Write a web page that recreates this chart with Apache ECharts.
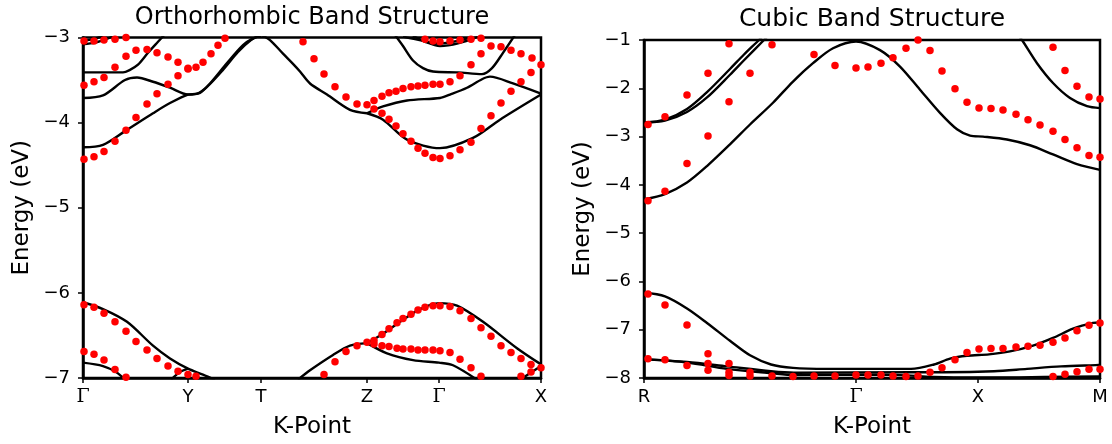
<!DOCTYPE html>
<html>
<head>
<meta charset="utf-8">
<script src="https://cdn.jsdelivr.net/npm/echarts@6/dist/echarts.min.js"></script>
<style>
  html, body { margin: 0; padding: 0; background: #fff; }
  #chart { width: 1112px; height: 444px; }
</style>
</head>
<body>
<div id="chart"></div>
<script>
// k-path ticks (path length units) and energy axes
const orthoTickPos = [0, 1.05, 1.78, 2.84, 3.56, 4.58];
const orthoTickLabels = ['Γ', 'Y', 'T', 'Z', 'Γ', 'X'];
const cubicTickPos = [0, 2.12, 3.34, 4.56];
const cubicTickLabels = ['R', 'Γ', 'X', 'M'];
const orthoEnergyRange = [-7, -3];
const cubicEnergyRange = [-8, -1];

// ---- orthorhombic: black bands [k, E]
const oBandTop1 = [[0, -3.04], [0.1, -3.02], [0.2, -2.98]];
const oBandTop2 = [[0, -3.08], [0.12, -3.06], [0.25, -3.01], [0.35, -2.96]];
const oBandA = [[0, -3.41], [0.2, -3.41], [0.4, -3.41], [0.47, -3.38], [0.55, -3.32], [0.65, -3.18], [0.75, -3.05], [0.82, -2.96]];
const oBandB = [[0, -3.71], [0.2, -3.68], [0.42, -3.50], [0.54, -3.47], [0.7, -3.52], [0.87, -3.59], [1.05, -3.67],
  [1.17, -3.65], [1.27, -3.54], [1.44, -3.30], [1.6, -3.09], [1.7, -3.01], [1.78, -2.98]];
const oBandC = [[0, -4.29], [0.2, -4.26], [0.42, -4.10], [0.7, -3.89], [0.87, -3.77], [1.05, -3.67],
  [1.14, -3.66], [1.24, -3.58], [1.4, -3.38], [1.55, -3.17], [1.68, -3.03], [1.78, -2.97]];
const oBandTZ = [[1.78, -2.97], [1.87, -3.03], [2.0, -3.19], [2.1, -3.31], [2.17, -3.40], [2.27, -3.54], [2.44, -3.67], [2.67, -3.85], [2.84, -3.89]];
const oBandZX1 = [[2.84, -3.89], [3.0, -3.81], [3.24, -3.74], [3.57, -3.71], [3.67, -3.67], [3.84, -3.59], [3.99, -3.49], [4.07, -3.46], [4.3, -3.54], [4.58, -3.66]];
const oBandZX2 = [[2.84, -3.89], [3.0, -3.965], [3.24, -4.20], [3.57, -4.30], [3.9, -4.18], [4.17, -3.965], [4.58, -3.67]];
const oBandGdip = [[3.12, -2.97], [3.2, -3.10], [3.3, -3.27], [3.4, -3.36], [3.5, -3.40], [3.75, -3.41], [3.99, -3.43], [4.09, -3.36], [4.2, -3.18], [4.32, -2.97]];
const oBandGtop1 = [[3.3, -2.98], [3.42, -3.05], [3.57, -3.10], [3.75, -3.07], [3.95, -2.99]];
const oBandGtop2 = [[3.2, -2.99], [3.4, -3.04], [3.54, -3.07], [3.75, -3.04], [3.9, -2.99]];
const oBandL1 = [[0, -6.11], [0.2, -6.19], [0.44, -6.34], [0.7, -6.62], [0.87, -6.77], [1.05, -6.89], [1.2, -6.96], [1.32, -7.02]];
const oBandArch = [[0.88, -7.02], [0.97, -6.93], [1.05, -6.89]];
const oBandL2 = [[0, -6.82], [0.2, -6.86], [0.33, -6.93], [0.42, -7.02]];
const oBandTZlow = [[2.15, -7.02], [2.27, -6.91], [2.5, -6.73], [2.67, -6.62], [2.84, -6.59]];
const oBandZXup = [[2.84, -6.59], [3.0, -6.48], [3.17, -6.34], [3.37, -6.19], [3.56, -6.12], [3.74, -6.15], [4.0, -6.34], [4.34, -6.65], [4.58, -6.84]];
const oBandZXlow = [[2.84, -6.59], [3.04, -6.71], [3.3, -6.79], [3.56, -6.82], [3.7, -6.85], [3.94, -7.02]];
const oBandXrise = [[4.37, -7.02], [4.58, -6.86]];

// ---- orthorhombic: red dots [k, E]
const oDotsTop = [[0.01, -3.04], [0.11, -3.04], [0.21, -3.03], [0.32, -3.02], [0.43, -3.00]];
const oDots1 = [[0.01, -3.56], [0.11, -3.52], [0.21, -3.47], [0.32, -3.35], [0.43, -3.22], [0.53, -3.15], [0.64, -3.14], [0.74, -3.18],
  [0.85, -3.23], [0.95, -3.29], [1.05, -3.36], [1.13, -3.35], [1.2, -3.29], [1.28, -3.19], [1.35, -3.09], [1.42, -3.01]];
const oDots2 = [[0.01, -4.43], [0.11, -4.40], [0.21, -4.34], [0.32, -4.22], [0.43, -4.09], [0.53, -3.94], [0.64, -3.78], [0.74, -3.66],
  [0.85, -3.55], [0.95, -3.45], [1.05, -3.37]];
const oDotsTZ = [[2.2, -3.05], [2.31, -3.25], [2.41, -3.43], [2.52, -3.58], [2.63, -3.70], [2.74, -3.78], [2.84, -3.79]];
const oDotsZXup = [[2.91, -3.74], [2.99, -3.69], [3.06, -3.65], [3.13, -3.63], [3.2, -3.60], [3.28, -3.58], [3.35, -3.57], [3.42, -3.56],
  [3.5, -3.55], [3.57, -3.55], [3.67, -3.52], [3.77, -3.45], [3.88, -3.32], [3.98, -3.19], [4.08, -3.10], [4.18, -3.11],
  [4.28, -3.15], [4.38, -3.19], [4.49, -3.24], [4.58, -3.32]];
const oDotsZXlow = [[2.91, -3.84], [2.99, -3.89], [3.06, -3.96], [3.13, -4.04], [3.2, -4.13], [3.28, -4.22], [3.35, -4.30], [3.42, -4.36],
  [3.5, -4.41], [3.57, -4.42], [3.67, -4.39], [3.77, -4.32], [3.88, -4.23], [3.98, -4.07], [4.08, -3.92], [4.18, -3.77],
  [4.28, -3.63], [4.38, -3.52], [4.48, -3.41]];
const oDotsGtop = [[3.42, -3.02], [3.5, -3.04], [3.57, -3.05], [3.67, -3.04], [3.77, -3.03], [3.88, -3.02], [3.98, -3.01]];
const oDotsLow1 = [[0.01, -6.14], [0.11, -6.17], [0.21, -6.24], [0.32, -6.34], [0.43, -6.45], [0.53, -6.57], [0.64, -6.67], [0.74, -6.77],
  [0.85, -6.86], [0.95, -6.92], [1.05, -6.96], [1.13, -6.98]];
const oDotsLow2 = [[0.01, -6.69], [0.11, -6.72], [0.21, -6.79], [0.32, -6.90], [0.43, -6.99]];
const oDotsTZlow = [[2.41, -6.96], [2.52, -6.81], [2.63, -6.69], [2.74, -6.62], [2.84, -6.58]];
const oDotsZXlowUp = [[2.91, -6.56], [2.99, -6.49], [3.06, -6.42], [3.14, -6.35], [3.2, -6.30], [3.28, -6.25], [3.35, -6.20], [3.42, -6.17],
  [3.5, -6.15], [3.57, -6.15], [3.67, -6.16], [3.77, -6.21], [3.88, -6.30], [3.98, -6.41], [4.08, -6.51], [4.18, -6.62],
  [4.28, -6.70], [4.38, -6.77], [4.48, -6.84], [4.58, -6.88]];
const oDotsZXlowDn = [[2.91, -6.60], [2.99, -6.62], [3.06, -6.63], [3.14, -6.65], [3.2, -6.66], [3.28, -6.66], [3.35, -6.67], [3.42, -6.67],
  [3.5, -6.67], [3.57, -6.68], [3.67, -6.70], [3.77, -6.78], [3.88, -6.88], [3.98, -6.98]];
const oDotsXrise = [[4.38, -6.98], [4.48, -6.93]];

// ---- cubic: black bands [k, E]
const cBandP1 = [[0, -2.71], [0.21, -2.65], [0.43, -2.43], [0.63, -2.08], [0.86, -1.60], [1.0, -1.30], [1.15, -1.0], [1.22, -0.85]];
const cBandP2 = [[0, -2.71], [0.21, -2.67], [0.43, -2.49], [0.63, -2.19], [0.86, -1.72], [1.0, -1.42], [1.2, -1.0], [1.27, -0.85]];
const cBandQ = [[0, -4.30], [0.21, -4.19], [0.43, -3.95], [0.63, -3.61], [0.86, -3.16], [1.06, -2.75], [1.29, -2.30], [1.49, -1.86],
  [1.69, -1.48], [1.89, -1.17], [2.12, -1.03], [2.36, -1.21], [2.56, -1.55], [2.76, -2.03], [2.96, -2.51], [3.13, -2.85],
  [3.26, -2.98], [3.39, -3.00], [3.63, -3.06], [3.86, -3.18], [4.09, -3.37], [4.33, -3.57], [4.56, -3.69]];
const cBandS = [[3.74, -0.9], [3.78, -1.0], [3.93, -1.48], [4.09, -1.89], [4.26, -2.20], [4.43, -2.37], [4.56, -2.41]];
const cBandU = [[0, -6.23], [0.21, -6.31], [0.43, -6.56], [0.63, -6.86], [0.86, -7.23], [1.06, -7.53], [1.27, -7.72], [1.49, -7.79],
  [1.83, -7.81], [2.36, -7.81], [2.67, -7.81], [2.9, -7.72], [3.06, -7.60], [3.23, -7.54], [3.45, -7.51], [3.66, -7.45],
  [3.89, -7.33], [4.09, -7.17], [4.29, -6.98], [4.49, -6.86], [4.56, -6.85]];
const cBandV = [[0, -7.61], [0.43, -7.67], [0.83, -7.76], [1.27, -7.86], [1.5, -7.89], [2.67, -7.88], [3.0, -7.88], [3.5, -7.86],
  [3.83, -7.81], [4.17, -7.76], [4.56, -7.73]];
const cBandV2 = [[0, -7.61], [0.43, -7.68], [0.83, -7.81], [1.27, -7.90], [1.5, -7.94], [2.33, -7.93], [2.67, -7.95], [2.9, -7.98],
  [3.1, -7.99], [3.5, -7.99], [4.0, -7.98], [4.56, -7.97]];

// ---- cubic: red dots [k, E]
const cDotsA = [[0.04, -2.75], [0.21, -2.59], [0.43, -2.14], [0.64, -1.69], [0.85, -1.08]];
const cDotsB = [[0.04, -4.33], [0.21, -4.13], [0.43, -3.56], [0.64, -2.99], [0.85, -2.28], [1.06, -1.69], [1.28, -1.10]];
const cDotsC = [[1.7, -1.30], [1.91, -1.53], [2.12, -1.58], [2.24, -1.56], [2.37, -1.48], [2.49, -1.37], [2.62, -1.17], [2.74, -1.0]];
const cDotsD = [[2.86, -1.22], [2.98, -1.64], [3.11, -2.01], [3.23, -2.29], [3.35, -2.41], [3.47, -2.42], [3.59, -2.45], [3.72, -2.54],
  [3.84, -2.65], [3.96, -2.76], [4.09, -2.89], [4.21, -3.06], [4.33, -3.23], [4.45, -3.39], [4.56, -3.43]];
const cDotsE = [[4.09, -1.15], [4.21, -1.63], [4.33, -1.96], [4.45, -2.18], [4.56, -2.22]];
const cDotsF = [[0.04, -6.26], [0.21, -6.49], [0.43, -6.90], [0.64, -7.50], [0.85, -7.70], [1.06, -7.88], [1.28, -7.96], [1.49, -7.97],
  [1.7, -7.96], [1.91, -7.96], [2.12, -7.94], [2.24, -7.94], [2.37, -7.94], [2.49, -7.96], [2.62, -7.97], [2.74, -7.96],
  [2.86, -7.88], [2.98, -7.79], [3.11, -7.62], [3.23, -7.47], [3.35, -7.40], [3.47, -7.39], [3.59, -7.39], [3.72, -7.36],
  [3.84, -7.34], [3.96, -7.32], [4.09, -7.26], [4.21, -7.17], [4.33, -7.02], [4.45, -6.91], [4.56, -6.86]];
const cDotsG = [[0.04, -7.60], [0.21, -7.62], [0.43, -7.74], [0.64, -7.84], [0.85, -7.95]];
const cDotsH = [[0.64, -7.70], [0.85, -7.88], [1.06, -7.96]];
const cDotsI = [[4.09, -7.97], [4.21, -7.92], [4.33, -7.87], [4.45, -7.82], [4.56, -7.82]];

const orthoLines = [oBandTop1, oBandTop2, oBandA, oBandB, oBandC, oBandTZ, oBandZX1, oBandZX2, oBandGdip, oBandGtop1, oBandGtop2,
  oBandL1, oBandArch, oBandL2, oBandTZlow, oBandZXup, oBandZXlow, oBandXrise];
const orthoDots = [oDotsTop, oDots1, oDots2, oDotsTZ, oDotsZXup, oDotsZXlow, oDotsGtop, oDotsLow1, oDotsLow2, oDotsTZlow,
  oDotsZXlowUp, oDotsZXlowDn, oDotsXrise];
const cubicLines = [cBandP1, cBandP2, cBandQ, cBandS, cBandU, cBandV, cBandV2];
const cubicDots = [cDotsA, cDotsB, cDotsC, cDotsD, cDotsE, cDotsF, cDotsG, cDotsH, cDotsI];

const FONT = 'DejaVu Sans';

function lineSeries(data, idx) {
  return {
    type: 'line', xAxisIndex: idx, yAxisIndex: idx, data: data,
    smooth: 0.3, symbol: 'none', silent: true, z: 2,
    lineStyle: { color: '#000', width: 2.4 }
  };
}

function dotSeries(data, idx) {
  return {
    type: 'scatter', xAxisIndex: idx, yAxisIndex: idx, data: data,
    symbolSize: 7.5, silent: true, z: 3,
    itemStyle: { color: '#ff0000', opacity: 1 }
  };
}

function kAxis(idx, pos, labels) {
  return {
    type: 'value', gridIndex: idx, min: 0, max: pos[pos.length - 1],
    name: 'K-Point', nameLocation: 'middle', nameGap: 38,
    nameTextStyle: { fontFamily: FONT, fontSize: 23, color: '#000' },
    axisLine: { show: true, onZero: false, lineStyle: { color: '#000', width: 2.5 } },
    axisTick: { show: true, customValues: pos, length: 5, lineStyle: { color: '#000', width: 1.5 } },
    axisLabel: {
      customValues: pos, margin: 10, color: '#000', fontFamily: FONT, fontSize: 18,
      formatter: function (v) {
        let i = pos.findIndex(p => Math.abs(p - v) < 1e-6);
        let t = i >= 0 ? labels[i] : '';
        return t === 'Γ' ? '{g|Γ}' : t;
      },
      rich: { g: { fontFamily: 'DejaVu Serif', fontSize: 19, color: '#000' } }
    },
    splitLine: { show: false }
  };
}

function eAxis(idx, range) {
  return {
    type: 'value', gridIndex: idx, min: range[0], max: range[1], interval: 1,
    name: 'Energy (eV)', nameLocation: 'middle', nameGap: 49,
    nameTextStyle: { fontFamily: FONT, fontSize: 23, color: '#000' },
    axisLine: { show: true, onZero: false, lineStyle: { color: '#000', width: 2.5 } },
    axisTick: { show: true, length: 5, lineStyle: { color: '#000', width: 1.5 } },
    axisLabel: {
      margin: 13, color: '#000', fontFamily: FONT, fontSize: 18,
      formatter: v => String(v).replace('-', '\u2212')
    },
    splitLine: { show: false }
  };
}

const chart = echarts.init(document.getElementById('chart'), null, { renderer: 'canvas' });

const option = {
  animation: false,
  backgroundColor: '#fff',
  grid: [
    { left: 83, top: 37.5, width: 458, height: 342, show: true, borderColor: '#000', borderWidth: 2.5 },
    { left: 644, top: 40, width: 456, height: 340, show: true, borderColor: '#000', borderWidth: 2.5 }
  ],
  graphic: [
    { type: 'text', x: 312, y: 18, style: { text: 'Orthorhombic Band Structure', align: 'center', verticalAlign: 'middle', font: '24px "DejaVu Sans"', fill: '#000' } },
    { type: 'text', x: 872, y: 19, style: { text: 'Cubic Band Structure', align: 'center', verticalAlign: 'middle', font: '25px "DejaVu Sans"', fill: '#000' } }
  ],
  xAxis: [kAxis(0, orthoTickPos, orthoTickLabels), kAxis(1, cubicTickPos, cubicTickLabels)],
  yAxis: [eAxis(0, orthoEnergyRange), eAxis(1, cubicEnergyRange)],
  series: [].concat(
    orthoLines.map(d => lineSeries(d, 0)),
    orthoDots.map(d => dotSeries(d, 0)),
    cubicLines.map(d => lineSeries(d, 1)),
    cubicDots.map(d => dotSeries(d, 1))
  )
};

chart.setOption(option);
</script>
</body>
</html>
